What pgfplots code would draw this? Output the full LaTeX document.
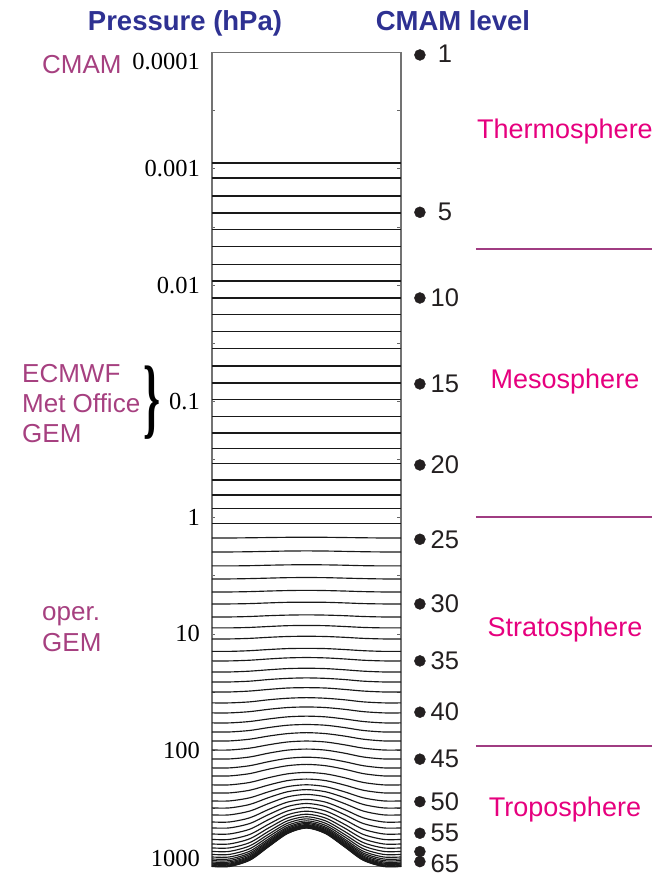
\documentclass[border=0pt]{standalone}
\usepackage{graphicx}
\usepackage{pgfplots}
\pgfplotsset{compat=1.18}
\usepackage{fontspec}
\setmainfont{Liberation Serif}
\newfontfamily\arial{Liberation Sans}

\definecolor{titleblue}{RGB}{46,49,146}
\definecolor{modelpurple}{RGB}{166,64,128}
\definecolor{layermag}{RGB}{230,0,126}
\definecolor{layerline}{RGB}{160,60,130}
\definecolor{dotc}{RGB}{35,31,32}

\newcommand\tickfont{\fontsize{24.5bp}{28bp}\selectfont}
\newcommand\titlefont{\arial\bfseries\fontsize{27.5bp}{32bp}\selectfont}
\newcommand\labfont{\arial\fontsize{26bp}{30bp}\selectfont}
\newcommand\lvlfont{\arial\fontsize{25.5bp}{30bp}\selectfont}
\newcommand\layerfont{\arial\fontsize{27bp}{32bp}\selectfont}

\pgfplotsset{
  lev/.style={no markers, draw=black!90, line width=1.05bp},
  levc/.style={lev, smooth, line width=1.15bp},
}

\begin{document}
\begin{tikzpicture}
% page = 664 x 877 px, 1 px = 1 bp, axis box lower left at (0,0)
\path[use as bounding box] (-212bp,-10.5bp) rectangle (452bp,866.5bp);

% y is log10 of pressure (hPa), surface down
\begin{axis}[
  scale only axis, width=189bp, height=814bp,
  xmin=0, xmax=1, ymin=-4, ymax=3, y dir=reverse,
  clip=false,
  axis line style={draw=black!55, line width=1.2bp},
  xtick=\empty,
  ytick={-3,-2,-1,0,1,2},
  yticklabels={0.001,0.01,0.1,1,10,100},
  minor ytick={-3.5,-2.5,-1.5,-0.5,0.5,1.5,2.5},
  tick align=inside,
  major tick length=3.5bp, minor tick length=3.5bp,
  every tick/.style={black!60, line width=0.8bp},
  yticklabel style={font=\tickfont, inner sep=0pt, xshift=-12bp},
]
% flat levels 2-24
\addplot[lev] coordinates {(0,-3.050)(1,-3.050)};
\addplot[lev] coordinates {(0,-2.921)(1,-2.921)};
\addplot[lev] coordinates {(0,-2.766)(1,-2.766)};
\addplot[lev] coordinates {(0,-2.620)(1,-2.620)};
\addplot[lev] coordinates {(0,-2.474)(1,-2.474)};
\addplot[lev] coordinates {(0,-2.328)(1,-2.328)};
\addplot[lev] coordinates {(0,-2.181)(1,-2.181)};
\addplot[lev] coordinates {(0,-2.035)(1,-2.035)};
\addplot[lev] coordinates {(0,-1.889)(1,-1.889)};
\addplot[lev] coordinates {(0,-1.743)(1,-1.743)};
\addplot[lev] coordinates {(0,-1.597)(1,-1.597)};
\addplot[lev] coordinates {(0,-1.451)(1,-1.451)};
\addplot[lev] coordinates {(0,-1.304)(1,-1.304)};
\addplot[lev] coordinates {(0,-1.158)(1,-1.158)};
\addplot[lev] coordinates {(0,-1.012)(1,-1.012)};
\addplot[lev] coordinates {(0,-0.866)(1,-0.866)};
\addplot[lev] coordinates {(0,-0.728)(1,-0.728)};
\addplot[lev] coordinates {(0,-0.591)(1,-0.591)};
\addplot[lev] coordinates {(0,-0.462)(1,-0.462)};
\addplot[lev] coordinates {(0,-0.324)(1,-0.324)};
\addplot[lev] coordinates {(0,-0.195)(1,-0.195)};
\addplot[lev] coordinates {(0,-0.075)(1,-0.075)};
\addplot[lev] coordinates {(0,0.054)(1,0.054)};
% terrain-following levels 25-70
\addplot[levc] coordinates {(0,0.175)(0.092,0.175)(0.2,0.173)(0.3,0.171)(0.4,0.169)(0.5,0.168)(0.6,0.169)(0.7,0.171)(0.8,0.173)(0.908,0.175)(1,0.175)};
\addplot[levc] coordinates {(0,0.295)(0.092,0.295)(0.2,0.293)(0.3,0.290)(0.4,0.287)(0.5,0.286)(0.6,0.287)(0.7,0.290)(0.8,0.293)(0.908,0.295)(1,0.295)};
\addplot[levc] coordinates {(0,0.415)(0.092,0.415)(0.2,0.413)(0.3,0.409)(0.4,0.406)(0.5,0.405)(0.6,0.406)(0.7,0.409)(0.8,0.413)(0.908,0.415)(1,0.415)};
\addplot[levc] coordinates {(0,0.527)(0.092,0.527)(0.2,0.524)(0.3,0.520)(0.4,0.516)(0.5,0.515)(0.6,0.516)(0.7,0.520)(0.8,0.524)(0.908,0.527)(1,0.527)};
\addplot[levc] coordinates {(0,0.639)(0.092,0.639)(0.2,0.636)(0.3,0.631)(0.4,0.627)(0.5,0.625)(0.6,0.627)(0.7,0.631)(0.8,0.636)(0.908,0.639)(1,0.639)};
\addplot[levc] coordinates {(0,0.742)(0.092,0.742)(0.2,0.739)(0.3,0.733)(0.4,0.728)(0.5,0.727)(0.6,0.728)(0.7,0.733)(0.8,0.739)(0.908,0.742)(1,0.742)};
\addplot[levc] coordinates {(0,0.854)(0.092,0.854)(0.2,0.850)(0.3,0.843)(0.4,0.838)(0.5,0.836)(0.6,0.838)(0.7,0.843)(0.8,0.850)(0.908,0.854)(1,0.854)};
\addplot[levc] coordinates {(0,0.948)(0.092,0.948)(0.2,0.944)(0.3,0.936)(0.4,0.929)(0.5,0.927)(0.6,0.929)(0.7,0.936)(0.8,0.944)(0.908,0.948)(1,0.948)};
\addplot[levc] coordinates {(0,1.043)(0.092,1.043)(0.2,1.038)(0.3,1.029)(0.4,1.022)(0.5,1.020)(0.6,1.022)(0.7,1.029)(0.8,1.038)(0.908,1.043)(1,1.043)};
\addplot[levc] coordinates {(0,1.150)(0.092,1.150)(0.2,1.144)(0.3,1.134)(0.4,1.126)(0.5,1.124)(0.6,1.126)(0.7,1.134)(0.8,1.144)(0.908,1.150)(1,1.150)};
\addplot[levc] coordinates {(0,1.232)(0.092,1.232)(0.2,1.226)(0.3,1.215)(0.4,1.206)(0.5,1.203)(0.6,1.206)(0.7,1.215)(0.8,1.226)(0.908,1.232)(1,1.232)};
\addplot[levc] coordinates {(0,1.327)(0.092,1.327)(0.2,1.320)(0.3,1.308)(0.4,1.298)(0.5,1.295)(0.6,1.298)(0.7,1.308)(0.8,1.320)(0.908,1.327)(1,1.327)};
\addplot[levc] coordinates {(0,1.413)(0.092,1.413)(0.2,1.406)(0.3,1.392)(0.4,1.382)(0.5,1.378)(0.6,1.382)(0.7,1.392)(0.8,1.406)(0.908,1.413)(1,1.413)};
\addplot[levc] coordinates {(0,1.499)(0.092,1.499)(0.2,1.491)(0.3,1.477)(0.4,1.465)(0.5,1.462)(0.6,1.465)(0.7,1.477)(0.8,1.491)(0.908,1.499)(1,1.499)};
\addplot[levc] coordinates {(0,1.593)(0.092,1.593)(0.2,1.584)(0.3,1.566)(0.4,1.553)(0.5,1.548)(0.6,1.553)(0.7,1.566)(0.8,1.584)(0.908,1.593)(1,1.593)};
\addplot[levc] coordinates {(0,1.679)(0.092,1.679)(0.2,1.668)(0.3,1.648)(0.4,1.633)(0.5,1.628)(0.6,1.633)(0.7,1.648)(0.8,1.668)(0.908,1.679)(1,1.679)};
\addplot[levc] coordinates {(0,1.765)(0.092,1.765)(0.2,1.753)(0.3,1.731)(0.4,1.713)(0.5,1.707)(0.6,1.713)(0.7,1.731)(0.8,1.753)(0.908,1.765)(1,1.765)};
\addplot[levc] coordinates {(0,1.843)(0.092,1.843)(0.2,1.830)(0.3,1.805)(0.4,1.785)(0.5,1.779)(0.6,1.785)(0.7,1.805)(0.8,1.830)(0.908,1.843)(1,1.843)};
\addplot[levc] coordinates {(0,1.920)(0.092,1.920)(0.2,1.905)(0.3,1.878)(0.4,1.857)(0.5,1.849)(0.6,1.857)(0.7,1.878)(0.8,1.905)(0.908,1.920)(1,1.920)};
\addplot[levc] coordinates {(0,1.998)(0.092,1.998)(0.2,1.982)(0.3,1.953)(0.4,1.929)(0.5,1.921)(0.6,1.929)(0.7,1.953)(0.8,1.982)(0.908,1.998)(1,1.998)};
\addplot[levc] coordinates {(0,2.075)(0.092,2.075)(0.2,2.058)(0.3,2.025)(0.4,1.999)(0.5,1.990)(0.6,1.999)(0.7,2.025)(0.8,2.058)(0.908,2.075)(1,2.075)};
\addplot[levc] coordinates {(0,2.152)(0.092,2.152)(0.2,2.133)(0.3,2.098)(0.4,2.070)(0.5,2.060)(0.6,2.070)(0.7,2.098)(0.8,2.133)(0.908,2.152)(1,2.152)};
\addplot[levc] coordinates {(0,2.221)(0.092,2.221)(0.2,2.201)(0.3,2.163)(0.4,2.133)(0.5,2.122)(0.6,2.133)(0.7,2.163)(0.8,2.201)(0.908,2.221)(1,2.221)};
\addplot[levc] coordinates {(0,2.298)(0.092,2.298)(0.2,2.277)(0.3,2.236)(0.4,2.203)(0.5,2.191)(0.6,2.203)(0.7,2.236)(0.8,2.277)(0.908,2.298)(1,2.298)};
\addplot[levc] coordinates {(0,2.367)(0.092,2.367)(0.2,2.344)(0.3,2.299)(0.4,2.261)(0.5,2.248)(0.6,2.261)(0.7,2.299)(0.8,2.344)(0.908,2.367)(1,2.367)};
\addplot[levc] coordinates {(0,2.436)(0.092,2.436)(0.2,2.409)(0.3,2.357)(0.4,2.313)(0.5,2.297)(0.6,2.313)(0.7,2.357)(0.8,2.409)(0.908,2.436)(1,2.436)};
\addplot[levc] coordinates {(0,2.496)(0.092,2.496)(0.2,2.466)(0.3,2.407)(0.4,2.357)(0.5,2.339)(0.6,2.357)(0.7,2.407)(0.8,2.466)(0.908,2.496)(1,2.496)};
\addplot[levc] coordinates {(0,2.556)(0.092,2.556)(0.2,2.523)(0.3,2.458)(0.4,2.401)(0.5,2.380)(0.6,2.401)(0.7,2.458)(0.8,2.523)(0.908,2.556)(1,2.556)};
\addplot[levc] coordinates {(0,2.617)(0.092,2.617)(0.2,2.581)(0.3,2.509)(0.4,2.446)(0.5,2.423)(0.6,2.446)(0.7,2.509)(0.8,2.581)(0.908,2.617)(1,2.617)};
\addplot[levc] coordinates {(0,2.668)(0.092,2.668)(0.2,2.630)(0.3,2.553)(0.4,2.484)(0.5,2.458)(0.6,2.484)(0.7,2.553)(0.8,2.630)(0.908,2.668)(1,2.668)};
\addplot[levc] coordinates {(0,2.720)(0.092,2.720)(0.2,2.679)(0.3,2.596)(0.4,2.522)(0.5,2.493)(0.6,2.522)(0.7,2.596)(0.8,2.679)(0.908,2.720)(1,2.720)};
\addplot[levc] coordinates {(0,2.767)(0.092,2.767)(0.2,2.724)(0.3,2.636)(0.4,2.555)(0.5,2.524)(0.6,2.555)(0.7,2.636)(0.8,2.724)(0.908,2.767)(1,2.767)};
\addplot[levc] coordinates {(0,2.806)(0.092,2.806)(0.2,2.761)(0.3,2.668)(0.4,2.583)(0.5,2.550)(0.6,2.583)(0.7,2.668)(0.8,2.761)(0.908,2.806)(1,2.806)};
\addplot[levc] coordinates {(0,2.840)(0.092,2.840)(0.2,2.794)(0.3,2.697)(0.4,2.607)(0.5,2.572)(0.6,2.607)(0.7,2.697)(0.8,2.794)(0.908,2.840)(1,2.840)};
\addplot[levc] coordinates {(0,2.870)(0.092,2.870)(0.2,2.822)(0.3,2.722)(0.4,2.628)(0.5,2.590)(0.6,2.628)(0.7,2.722)(0.8,2.822)(0.908,2.870)(1,2.870)};
\addplot[levc] coordinates {(0,2.896)(0.092,2.896)(0.2,2.847)(0.3,2.743)(0.4,2.646)(0.5,2.607)(0.6,2.646)(0.7,2.743)(0.8,2.847)(0.908,2.896)(1,2.896)};
\addplot[levc] coordinates {(0,2.918)(0.092,2.918)(0.2,2.868)(0.3,2.762)(0.4,2.661)(0.5,2.620)(0.6,2.661)(0.7,2.762)(0.8,2.868)(0.908,2.918)(1,2.918)};
\addplot[levc] coordinates {(0,2.935)(0.092,2.935)(0.2,2.884)(0.3,2.776)(0.4,2.672)(0.5,2.630)(0.6,2.672)(0.7,2.776)(0.8,2.884)(0.908,2.935)(1,2.935)};
\addplot[levc] coordinates {(0,2.949)(0.092,2.949)(0.2,2.897)(0.3,2.787)(0.4,2.682)(0.5,2.639)(0.6,2.682)(0.7,2.787)(0.8,2.897)(0.908,2.949)(1,2.949)};
\addplot[levc] coordinates {(0,2.961)(0.092,2.961)(0.2,2.909)(0.3,2.797)(0.4,2.690)(0.5,2.646)(0.6,2.690)(0.7,2.797)(0.8,2.909)(0.908,2.961)(1,2.961)};
\addplot[levc] coordinates {(0,2.971)(0.092,2.971)(0.2,2.918)(0.3,2.806)(0.4,2.696)(0.5,2.652)(0.6,2.696)(0.7,2.806)(0.8,2.918)(0.908,2.971)(1,2.971)};
\addplot[levc] coordinates {(0,2.979)(0.092,2.979)(0.2,2.926)(0.3,2.812)(0.4,2.702)(0.5,2.657)(0.6,2.702)(0.7,2.812)(0.8,2.926)(0.908,2.979)(1,2.979)};
\addplot[levc] coordinates {(0,2.986)(0.092,2.986)(0.2,2.933)(0.3,2.818)(0.4,2.706)(0.5,2.661)(0.6,2.706)(0.7,2.818)(0.8,2.933)(0.908,2.986)(1,2.986)};
\addplot[levc] coordinates {(0,2.992)(0.092,2.992)(0.2,2.938)(0.3,2.823)(0.4,2.710)(0.5,2.664)(0.6,2.710)(0.7,2.823)(0.8,2.938)(0.908,2.992)(1,2.992)};
\addplot[levc] coordinates {(0,2.997)(0.092,2.997)(0.2,2.943)(0.3,2.827)(0.4,2.714)(0.5,2.667)(0.6,2.714)(0.7,2.827)(0.8,2.943)(0.908,2.997)(1,2.997)};
\addplot[levc] coordinates {(0,3.000)(0.092,3.000)(0.2,2.946)(0.3,2.829)(0.4,2.716)(0.5,2.669)(0.6,2.716)(0.7,2.829)(0.8,2.946)(0.908,3.000)(1,3.000)};

% CMAM level markers
\addplot[only marks, mark=*, mark size=5.5bp, color=dotc] coordinates {
(1.1,-3.979)(1.1,-2.626)(1.1,-1.889)(1.1,-1.150)(1.1,-0.453)(1.1,0.186)(1.1,0.742)
(1.1,1.232)(1.1,1.673)(1.1,2.077)(1.1,2.442)(1.1,2.714)(1.1,2.872)(1.1,2.958)};

\begin{scope}[every node/.style={inner sep=0pt, anchor=center, font=\lvlfont, text=dotc, xshift=25bp}]
\node at (axis cs:1.1,-3.990) {1};
\node at (axis cs:1.1,-2.626) {5};
\node at (axis cs:1.1,-1.889) {10};
\node at (axis cs:1.1,-1.150) {15};
\node at (axis cs:1.1,-0.453) {20};
\node at (axis cs:1.1,0.186) {25};
\node at (axis cs:1.1,0.742) {30};
\node at (axis cs:1.1,1.232) {35};
\node at (axis cs:1.1,1.673) {40};
\node at (axis cs:1.1,2.077) {45};
\node at (axis cs:1.1,2.442) {50};
\node at (axis cs:1.1,2.714) {55};
\node at (axis cs:1.1,2.975) {65};
\end{scope}

% end labels shifted inside the page
\node[anchor=east, inner sep=0pt, font=\tickfont] at ([xshift=-12bp, yshift=-9.5bp]axis cs:0,-4) {0.0001};
\node[anchor=east, inner sep=0pt, font=\tickfont] at ([xshift=-12bp, yshift=8.5bp]axis cs:0,3) {1000};
\end{axis}

% annotations, in page pixels (y down)
\begin{scope}[x=1bp, y=-1bp, shift={(-212bp,866.5bp)}, every node/.style={inner sep=0pt}]
\node[anchor=base, font=\titlefont, text=titleblue] at (185,31) {Pressure (hPa)};
\node[anchor=base, font=\titlefont, text=titleblue] at (453,31) {CMAM level};

\node[anchor=base west, font=\labfont, text=modelpurple] at (42,74) {CMAM};
\node[anchor=base west, font=\labfont, text=modelpurple] at (22,383) {ECMWF};
\node[anchor=base west, font=\labfont, text=modelpurple] at (22,413) {Met Office};
\node[anchor=base west, font=\labfont, text=modelpurple] at (22,443) {GEM};
\node[anchor=base west, font=\labfont, text=modelpurple] at (42,621) {oper.};
\node[anchor=base west, font=\labfont, text=modelpurple] at (42,652) {GEM};
\node[anchor=center] at (152,403) {\scalebox{1.8}[3.7]{\fontsize{24bp}{24bp}\selectfont\bfseries\}}};

\node[anchor=base, font=\layerfont, text=layermag] at (565,139) {Thermosphere};
\node[anchor=base, font=\layerfont, text=layermag] at (565,389) {Mesosphere};
\node[anchor=base, font=\layerfont, text=layermag] at (565,637) {Stratosphere};
\node[anchor=base, font=\layerfont, text=layermag] at (565,817) {Troposphere};
\draw[layerline, line width=2bp] (476,249) -- (652,249);
\draw[layerline, line width=2bp] (476,517) -- (652,517);
\draw[layerline, line width=2bp] (476,746) -- (652,746);
\end{scope}
\end{tikzpicture}
\end{document}
